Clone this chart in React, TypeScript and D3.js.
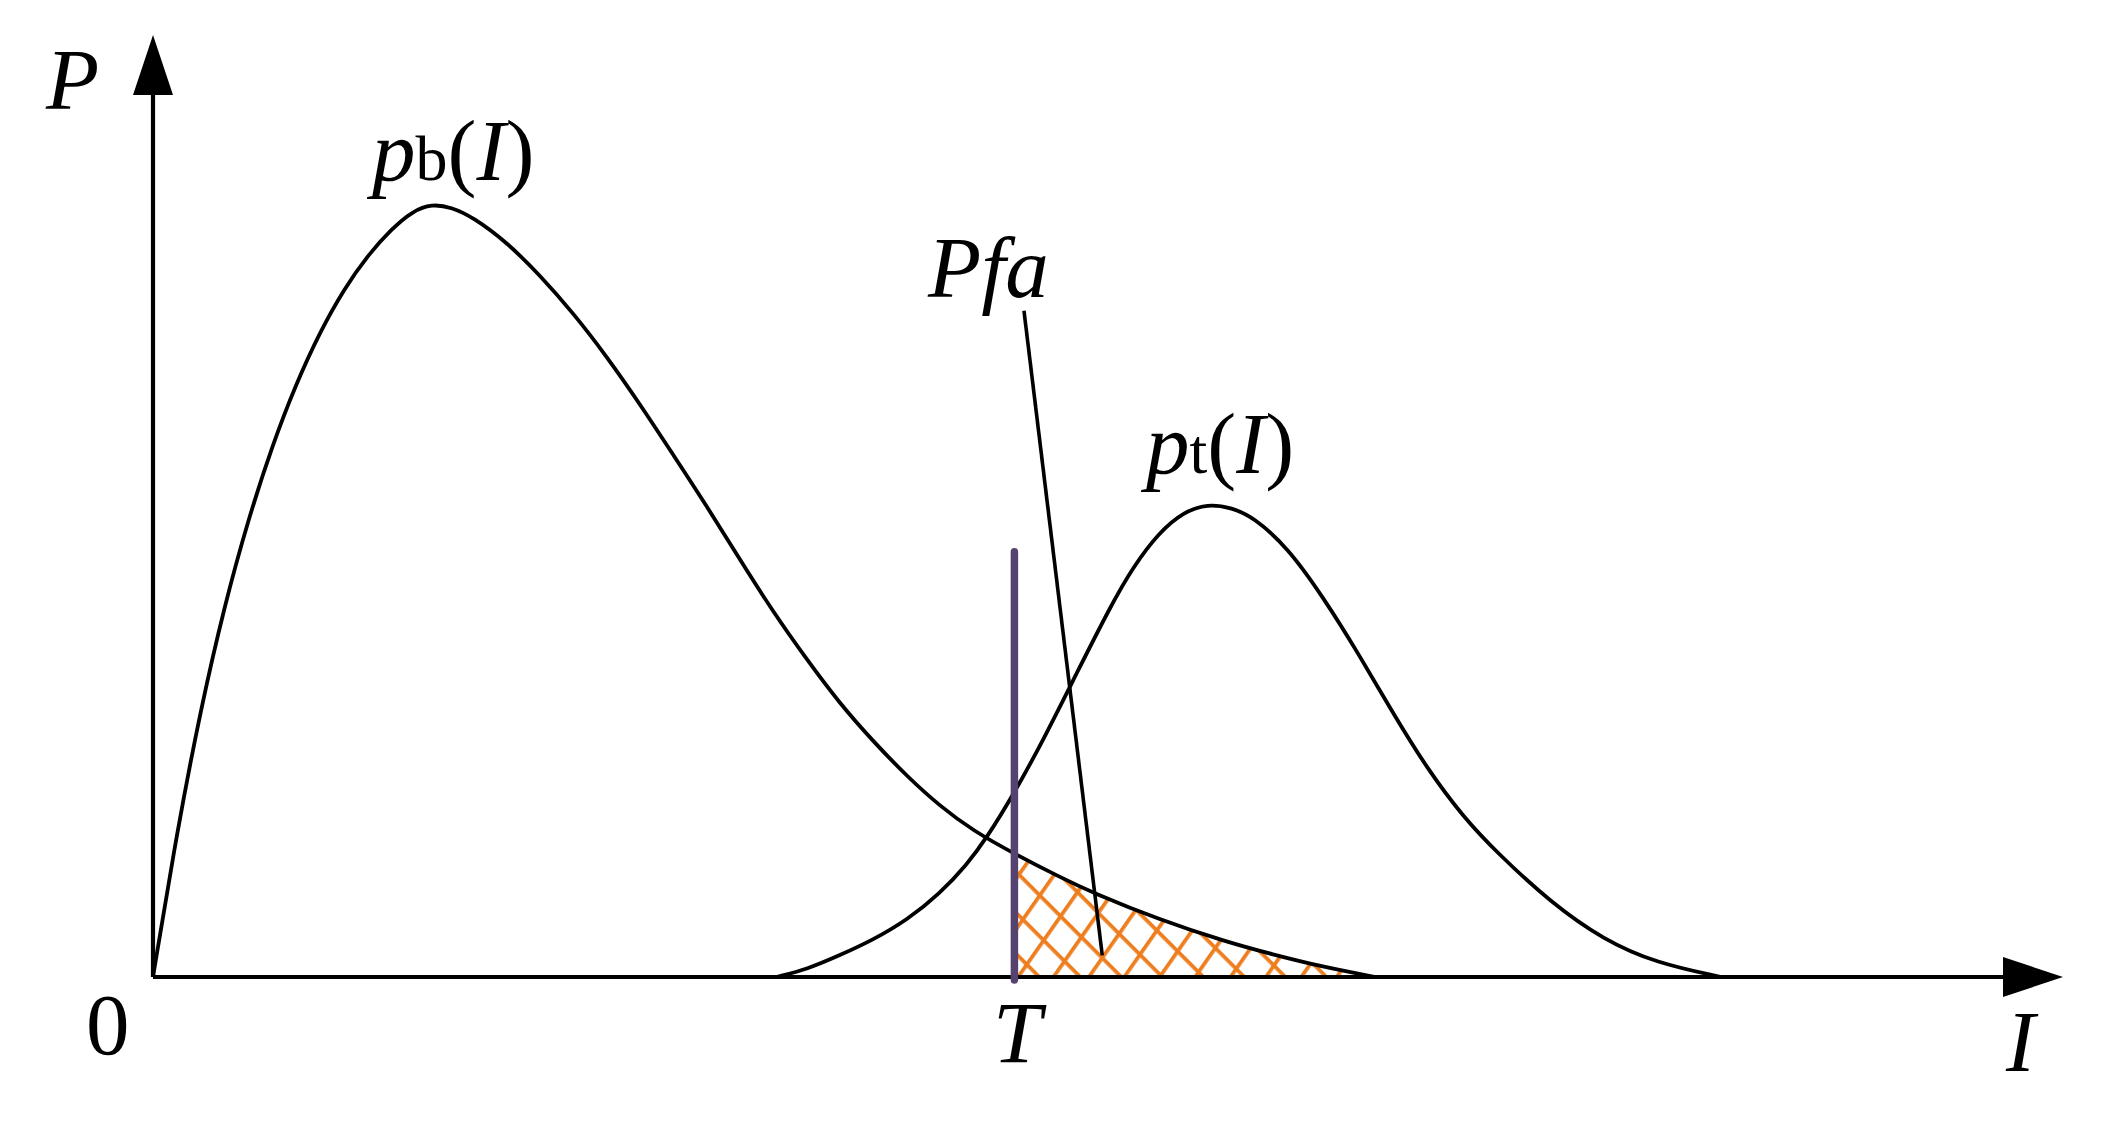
import React from 'react';
import * as d3 from 'd3';

// ---- data ----
const pbI = [0, 0.25, 0.5, 0.75, 1.0, 1.25, 1.5, 1.75, 2.0, 2.25, 2.5, 2.72, 2.92, 3.12, 3.35, 3.71, 4.05, 4.40, 4.75, 5.10, 5.45, 5.80, 6.15, 6.49, 6.85, 7.19, 7.54, 7.90, 8.24, 8.59, 9.01, 9.50, 9.84, 10.54, 11.25, 11.70, 12.25, 12.80];
const pbP = [0, 0.187, 0.347, 0.481, 0.593, 0.688, 0.768, 0.835, 0.890, 0.934, 0.968, 0.991, 1.0, 0.996, 0.983, 0.950, 0.908, 0.859, 0.803, 0.741, 0.675, 0.609, 0.539, 0.473, 0.410, 0.354, 0.305, 0.259, 0.221, 0.189, 0.160, 0.129, 0.109, 0.074, 0.045, 0.030, 0.013, 0];

const ptI = [6.53, 6.85, 7.19, 7.54, 7.90, 8.24, 8.52, 8.73, 9.01, 9.32, 9.68, 10.02, 10.26, 10.54, 10.80, 11.04, 11.30, 11.52, 11.88, 12.25, 12.62, 12.98, 13.35, 13.72, 14.08, 14.64, 15.19, 15.74, 16.42];
const ptP = [0, 0.010, 0.028, 0.048, 0.074, 0.108, 0.145, 0.180, 0.236, 0.306, 0.395, 0.478, 0.530, 0.576, 0.602, 0.612, 0.607, 0.595, 0.556, 0.492, 0.419, 0.342, 0.268, 0.207, 0.160, 0.096, 0.048, 0.018, 0];

const thresholdI = 9.02;
const thresholdTopP = 0.55;
const leaderStart = [9.12, 0.862];
const leaderEnd = [9.94, 0.028];
const axisEndI = 20;
const axisEndP = 1.2186;

const labelText = {
  P: 'P', zero: '0', I: 'I', T: 'T', Pfa: 'Pfa',
};

export default function App() {
  const W = 2110, H = 1123;
  const x = d3.scaleLinear().domain([0, 20]).range([153, 2063]);
  const y = d3.scaleLinear().domain([0, 1]).range([977, 204]);

  const pb = pbI.map((v, i) => [v, pbP[i]] as [number, number]);
  const pt = ptI.map((v, i) => [v, ptP[i]] as [number, number]);

  const line = d3.line<[number, number]>().x(d => x(d[0])).y(d => y(d[1])).curve(d3.curveBasis);
  const area = d3.area<[number, number]>().x(d => x(d[0])).y0(y(0)).y1(d => y(d[1])).curve(d3.curveBasis);

  const x0 = x(0), y0 = y(0);
  const xEnd = x(axisEndI), yTop = y(axisEndP);
  const headLen = 60, headHalf = 20;
  const tx = x(thresholdI);

  const serif = '"Liberation Serif", "Times New Roman", serif';
  const fs = 87;
  const sub = 64;
  const hatchColor = '#EE7D1E';

  return (
    <svg width={W} height={H} style={{ position: 'absolute', left: 0, top: 0, display: 'block', background: '#fff' }}>
      <defs>
        <pattern id="hatchA" patternUnits="userSpaceOnUse" width={29} height={29} patternTransform="translate(1102,955) rotate(45)">
          <line x1={-2} y1={0} x2={31} y2={0} stroke={hatchColor} strokeWidth={7.4} />
        </pattern>
        <pattern id="hatchB" patternUnits="userSpaceOnUse" width={29} height={29} patternTransform="translate(1102,955) rotate(-55)">
          <line x1={-2} y1={0} x2={31} y2={0} stroke={hatchColor} strokeWidth={7.4} />
        </pattern>
        <clipPath id="tailClip">
          <rect x={tx + 3} y={0} width={W} height={y0 - 1} />
        </clipPath>
      </defs>
      <rect x={0} y={0} width={W} height={H} fill="#fff" />

      {/* hatched false-alarm region */}
      <g clipPath="url(#tailClip)">
        <path d={area(pb) || ''} fill="url(#hatchA)" />
        <path d={area(pb) || ''} fill="url(#hatchB)" />
      </g>

      {/* axes */}
      <line x1={x0} y1={y0} x2={x0} y2={yTop + headLen - 2} stroke="#000" strokeWidth={4.2} />
      <line x1={x0} y1={y0} x2={xEnd - headLen + 2} y2={y0} stroke="#000" strokeWidth={4.2} />
      <path d={`M${x0},${yTop} L${x0 - headHalf},${yTop + headLen} L${x0 + headHalf},${yTop + headLen} Z`} fill="#000" />
      <path d={`M${xEnd},${y0} L${xEnd - headLen},${y0 - headHalf} L${xEnd - headLen},${y0 + headHalf} Z`} fill="#000" />

      {/* curves */}
      <path d={line(pb) || ''} fill="none" stroke="#000" strokeWidth={3.8} />
      <path d={line(pt) || ''} fill="none" stroke="#000" strokeWidth={3.8} />

      {/* threshold line */}
      <line x1={tx} y1={y(thresholdTopP)} x2={tx} y2={y0 + 3} stroke="#54436F" strokeWidth={7.5} strokeLinecap="round" />

      {/* leader line */}
      <line x1={x(leaderStart[0])} y1={y(leaderStart[1])} x2={x(leaderEnd[0])} y2={y(leaderEnd[1])} stroke="#000" strokeWidth={3.6} />

      {/* labels */}
      <g fontFamily={serif} fill="#000">
        <text x={46} y={109} fontSize={fs} fontStyle="italic">{labelText.P}</text>
        <text x={86} y={1054} fontSize={fs}>{labelText.zero}</text>
        <text x={2006} y={1071} fontSize={fs} fontStyle="italic">{labelText.I}</text>
        <text x={993} y={1062} fontSize={fs} fontStyle="italic">{labelText.T}</text>
        <text x={928} y={297} fontSize={fs} fontStyle="italic">{labelText.Pfa}</text>
        <text x={372} y={180} fontSize={fs}>
          <tspan fontStyle="italic">p</tspan>
          <tspan fontSize={sub}>b</tspan>
          <tspan>(</tspan>
          <tspan fontStyle="italic">I</tspan>
          <tspan>)</tspan>
        </text>
        <text x={1146} y={473} fontSize={fs}>
          <tspan fontStyle="italic">p</tspan>
          <tspan fontSize={sub}>t</tspan>
          <tspan>(</tspan>
          <tspan fontStyle="italic">I</tspan>
          <tspan>)</tspan>
        </text>
      </g>
    </svg>
  );
}
